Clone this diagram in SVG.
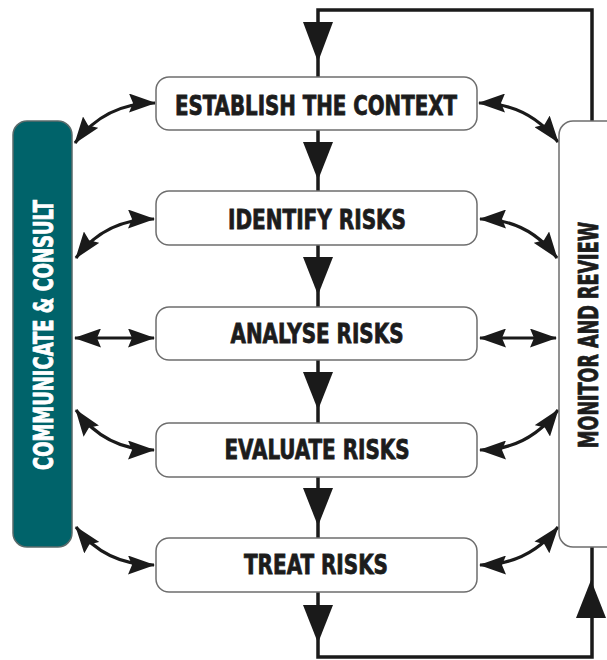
<svg xmlns="http://www.w3.org/2000/svg" width="607" height="660" viewBox="0 0 607 660">
<defs>
<style>
.box{fill:#ffffff;stroke:#6e6e6e;stroke-width:1.5}
.lbl{font-family:"Liberation Sans Narrow","DejaVu Sans Condensed","DejaVu Sans",sans-serif;font-stretch:condensed;font-weight:bold;font-size:27px;fill:#1c1c1c;stroke:#1c1c1c;stroke-width:0.8;text-anchor:middle}
.wht{fill:#ffffff;stroke:#ffffff}
.flow{fill:none;stroke:#1a1a1a;stroke-width:3.5}
.tri{fill:#1a1a1a}
.link{fill:none;stroke:#1a1a1a;stroke-width:3.2;marker-start:url(#ah);marker-end:url(#ah)}
</style>
<marker id="ah" viewBox="0 0 27 19" refX="26" refY="9.5" markerWidth="27" markerHeight="19" markerUnits="userSpaceOnUse" orient="auto-start-reverse">
<path d="M0,0 L27,9.5 L0,19 L4,9.5 z" fill="#1a1a1a"/>
</marker>
</defs>
<rect width="607" height="660" fill="#ffffff"/>

<g id="connectors">
<path class="flow" d="M318,77 V10 H592 V121"/>
<path class="flow" d="M318,130 V191 M318,245 V307 M318,360 V423 M318,477 V538"/>
<path class="flow" d="M318,592 V657 H592 V547"/>
<polygon class="tri" points="303,22 333,22 318,62"/>
<polygon class="tri" points="303,142 333,142 318,180"/>
<polygon class="tri" points="303,257 333,257 318,295"/>
<polygon class="tri" points="303,372 333,372 318,410"/>
<polygon class="tri" points="303,488 333,488 318,526"/>
<polygon class="tri" points="303,605 333,605 318,643"/>
<polygon class="tri" points="576,618 606,618 591,580"/>
<path class="link" d="M75,143 Q105,103 155,103"/>
<path class="link" d="M76,258 Q105,219 154,219"/>
<path class="link" d="M75,338 L154,338"/>
<path class="link" d="M76,410 Q105,450 154,450"/>
<path class="link" d="M76,527 Q105,565 154,565"/>
<path class="link" d="M479,103 Q528,103 558,142"/>
<path class="link" d="M480,219 Q528,219 557,258"/>
<path class="link" d="M480,338 L556,338"/>
<path class="link" d="M480,450 Q528,450 558,410"/>
<path class="link" d="M480,565 Q528,565 558,527"/>
</g>

<g id="communicate">
<rect x="13" y="121" width="59" height="426" rx="14" fill="#00636a" stroke="#5a6b6b" stroke-width="1.5"/>
<text class="lbl wht" transform="translate(53,335) rotate(-90)" textLength="270" lengthAdjust="spacingAndGlyphs">COMMUNICATE &amp; CONSULT</text>
</g>

<g id="monitor">
<rect class="box" x="559" y="121" width="70" height="426" rx="14"/>
<text class="lbl" transform="translate(598,335) rotate(-90)" textLength="226" lengthAdjust="spacingAndGlyphs">MONITOR AND REVIEW</text>
</g>

<g id="establish">
<rect class="box" x="156" y="77" width="321" height="53" rx="13"/>
<text class="lbl" x="316" y="115" textLength="282" lengthAdjust="spacingAndGlyphs">ESTABLISH THE CONTEXT</text>
</g>
<g id="identify">
<rect class="box" x="156" y="191" width="321" height="54" rx="13"/>
<text class="lbl" x="317" y="229" textLength="178" lengthAdjust="spacingAndGlyphs">IDENTIFY RISKS</text>
</g>
<g id="analyse">
<rect class="box" x="156" y="307" width="321" height="53" rx="13"/>
<text class="lbl" x="317" y="343" textLength="173" lengthAdjust="spacingAndGlyphs">ANALYSE RISKS</text>
</g>
<g id="evaluate">
<rect class="box" x="156" y="423" width="321" height="54" rx="13"/>
<text class="lbl" x="317" y="459" textLength="185" lengthAdjust="spacingAndGlyphs">EVALUATE RISKS</text>
</g>
<g id="treat">
<rect class="box" x="156" y="538" width="321" height="54" rx="13"/>
<text class="lbl" x="316" y="574" textLength="144" lengthAdjust="spacingAndGlyphs">TREAT RISKS</text>
</g>
</svg>
